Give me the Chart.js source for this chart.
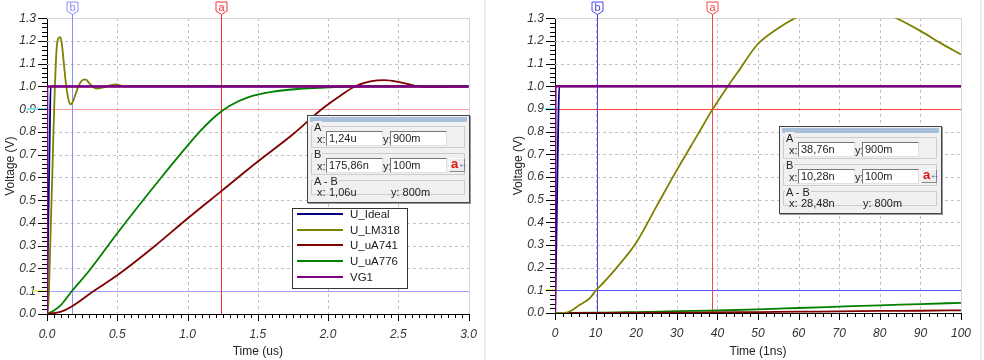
<!DOCTYPE html>
<html>
<head>
<meta charset="utf-8">
<script src="https://cdn.jsdelivr.net/npm/chart.js@4.4.1/dist/chart.umd.min.js"></script>
<style>
  body { margin:0; width:984px; height:360px; background:#fff; position:relative; overflow:hidden; font-family:"Liberation Sans", Arial, sans-serif; }
  .panel { position:absolute; top:0; }
  .sep { position:absolute; top:0; width:2px; height:360px; background:#ececec; }
  .legend { position:absolute; left:292px; top:208px; width:114px; height:79px; background:#fff; border:1px solid #333; font-size:11.5px; color:#222; }
  .legend .row { position:absolute; left:0; width:114px; height:16px; line-height:16px; white-space:nowrap; }
  .legend .sw { position:absolute; left:4px; top:7px; width:46px; height:2px; }
  .legend .lbl { position:absolute; left:57px; top:0; }
  .cbox { position:absolute; width:161px; height:86px; background:#f0f0f0; border:1px solid #444; box-shadow:1px 1px 0 #999; font-size:11px; color:#222; }
  .cbox div { position:absolute; white-space:nowrap; }
  .cbox .bar { left:2px; top:1px; width:157px; height:5px; background:#a9c0dc; }
  .cbox .grp { left:3px; width:152px; border:1px solid #cdcdcd; }
  .cbox .gl { left:5px; background:#f0f0f0; padding:0 1px; line-height:12px; }
  .cbox .fld { width:53px; height:13px; background:#fff; border:1px solid; border-color:#777 #e2e2e2 #e2e2e2 #777; line-height:13px; padding-left:2px; }
  .cbox .btn { left:141px; width:14px; height:12px; background:#ececec; border:1px solid; border-color:#fff #888 #888 #fff; line-height:12px; font-size:13px; }
</style>
</head>
<body>
<div class="panel" style="left:0"><canvas id="c1" width="490" height="360"></canvas></div>
<div class="panel" style="left:508px"><canvas id="c2" width="476" height="360"></canvas></div>
<div class="sep" style="left:484px"></div>
<div class="sep" style="left:980px"></div>
<div id="boxes"></div>
<script>
// left plot, time in us
const idealT_L = [0, 0.004, 0.012, 0.02, 0.026, 3.0];
const idealV_L = [0, 0.2, 0.5, 0.8, 1.0, 1.0];
const lm318T_L = [0, 0.008, 0.015, 0.022, 0.03, 0.038, 0.046, 0.055, 0.064, 0.072, 0.08, 0.094, 0.105, 0.12, 0.135, 0.15, 0.162, 0.171, 0.185, 0.2, 0.22, 0.24, 0.26, 0.276, 0.3, 0.33, 0.362, 0.41, 0.45, 0.49, 0.55, 0.7, 3.0];
const lm318V_L = [0, 0.03, 0.12, 0.28, 0.45, 0.62, 0.8, 0.98, 1.12, 1.19, 1.21, 1.217, 1.19, 1.1, 1.01, 0.95, 0.925, 0.921, 0.935, 0.96, 0.995, 1.02, 1.03, 1.03, 1.015, 0.997, 0.991, 0.997, 1.005, 1.009, 1.0, 1.0, 1.0];
const ua741T_L = [0, 0.1, 0.176, 0.33, 0.5, 0.75, 1.0, 1.24, 1.5, 1.75, 1.954, 2.1, 2.19, 2.3, 2.4, 2.5, 2.62, 2.75, 2.9, 3.0];
const ua741V_L = [0, 0.01, 0.033, 0.1, 0.17, 0.29, 0.42, 0.54, 0.67, 0.79, 0.9, 0.965, 1.0, 1.022, 1.028, 1.02, 1.003, 0.997, 0.999, 1.0];
const ua776T_L = [0, 0.05, 0.1, 0.176, 0.3, 0.5, 0.8, 1.0, 1.1, 1.2, 1.3, 1.43, 1.6, 1.8, 1.94, 2.1, 2.3, 3.0];
const ua776V_L = [0, 0.015, 0.04, 0.1, 0.19, 0.355, 0.59, 0.74, 0.81, 0.87, 0.915, 0.952, 0.976, 0.99, 0.994, 0.998, 1.0, 1.0];
const vg1T_L = [0, 0.0005, 3.0];
const vg1V_L = [0, 1.0, 1.0];

// right plot, time in ns
const idealT_R = [0, 0.2, 0.5, 0.8, 1.05, 100];
const idealV_R = [0, 0.17, 0.5, 0.83, 1.0, 1.0];
const lm318T_R = [0, 2, 4, 6, 8.5, 10.1, 12.5, 15, 20, 25, 30, 35, 38.8, 42, 44.9, 49.8, 54.5, 59.1, 65, 71, 78, 84.1, 90.2, 95, 100];
const lm318V_R = [0, 0, 0.01, 0.035, 0.064, 0.1, 0.145, 0.196, 0.31, 0.47, 0.63, 0.782, 0.898, 0.985, 1.059, 1.183, 1.25, 1.30, 1.345, 1.36, 1.345, 1.30, 1.242, 1.19, 1.14];
const ua741T_R = [0, 30, 40, 50, 60, 70, 80, 90, 100];
const ua741V_R = [0, 0.001, 0.003, 0.004, 0.006, 0.007, 0.009, 0.01, 0.012];
const ua776T_R = [0, 10, 15, 20, 30, 40, 50, 60, 70, 80, 90, 100];
const ua776V_R = [0, 0.001, 0.003, 0.004, 0.008, 0.011, 0.016, 0.022, 0.028, 0.034, 0.039, 0.045];
const vg1T_R = [0, 0.1, 100];
const vg1V_R = [0, 1.0, 1.0];

const seriesNames = ['U_Ideal', 'U_LM318', 'U_uA741', 'U_uA776', 'VG1'];
const seriesColors = ['#000080', '#808000', '#800000', '#008000', '#800080'];

// cursors [x, y] and readouts
const cursorA_L = [1.24, 0.9], cursorB_L = [0.17586, 0.1];
const cursorA_R = [38.76, 0.9], cursorB_R = [10.28, 0.1];
const readout_L = ['1,24u', '900m', '175,86n', '100m', '1,06u', '800m'];
const readout_R = ['38,76n', '900m', '10,28n', '100m', '28,48n', '800m'];

const tickFont = { family: '"Liberation Sans", Arial, sans-serif', size: 12, style: 'italic' };
const titleFont = { family: '"Liberation Sans", Arial, sans-serif', size: 12 };

// grid, minor ticks, cursors and tags, drawn from the chart's own scales
function scopePlugin(o) {
  return {
    id: 'scope',
    beforeDatasetsDraw(chart) {
      const { ctx, chartArea: a, scales: { x, y } } = chart;
      const L = Math.round(a.left), R = Math.round(a.right), T = Math.round(a.top), B = Math.round(a.bottom);
      ctx.save();
      // dashed grid
      ctx.fillStyle = '#c2c2c2';
      x.ticks.forEach(t => {
        if (t.value <= x.min || t.value >= x.max) return;
        const p = Math.round(x.getPixelForValue(t.value));
        for (let q = T; q < B; q += 6) ctx.fillRect(p, q, 1, Math.min(3, B - q));
      });
      y.ticks.forEach(t => {
        if (t.value <= y.min + 1e-9 || t.value >= y.max - 1e-9) return;
        const p = Math.round(y.getPixelForValue(t.value));
        for (let q = L; q < R; q += 6) ctx.fillRect(q, p, Math.min(3, R - q), 1);
      });
      // frame top/right
      ctx.fillStyle = '#d6d6d6';
      ctx.fillRect(L, T, R - L + 1, 1);
      ctx.fillRect(R, T, 1, B - T);
      // cursor lines
      const hl = (v, c) => { ctx.fillStyle = c; ctx.fillRect(L, Math.round(y.getPixelForValue(v)), R - L, 1); };
      const vl = (v, c) => { ctx.fillStyle = c; ctx.fillRect(Math.round(x.getPixelForValue(v)), 14, 1, B - 14); };
      hl(o.a[1], o.hA); hl(o.b[1], o.hB);
      vl(o.b[0], o.vB); vl(o.a[0], o.vA);
      // axis marks for cursor levels
      ctx.fillStyle = '#80e6ee';
      ctx.fillRect(L - o.markA, Math.round(y.getPixelForValue(o.a[1])) - 1, o.markA, 2);
      ctx.fillStyle = '#eeee70';
      ctx.fillRect(L - o.markB, Math.round(y.getPixelForValue(o.b[1])) - 1, o.markB, 2);
      ctx.restore();
    },
    afterDraw(chart) {
      const { ctx, chartArea: a, scales: { x, y } } = chart;
      const L = Math.round(a.left), B = Math.round(a.bottom);
      ctx.save();
      ctx.fillStyle = '#000';
      const nx = Math.round((x.max - x.min) / o.xMinor);
      for (let i = 0; i <= nx; i++) {
        const px = Math.round(x.getPixelForValue(x.min + i * o.xMinor));
        ctx.fillRect(px, B, 1, i % o.xPer === 0 ? 7 : 4);
      }
      const ny = Math.round((y.max - y.min) / o.yMinor);
      for (let i = 0; i <= ny; i++) {
        const py = Math.round(y.getPixelForValue(y.min + i * o.yMinor));
        const len = i % o.yPer === 0 ? 9 : 5;
        ctx.fillRect(L - len, py, len, 1);
      }
      const tag = (v, txt, c) => {
        const cx = Math.round(x.getPixelForValue(v)) + 0.5;
        ctx.fillStyle = '#fff'; ctx.strokeStyle = c; ctx.lineWidth = 1;
        ctx.beginPath();
        ctx.moveTo(cx - 5.5, 2); ctx.lineTo(cx + 5.5, 2); ctx.lineTo(cx + 5.5, 11);
        ctx.lineTo(cx, 14.5); ctx.lineTo(cx - 5.5, 11); ctx.closePath();
        ctx.fill(); ctx.stroke();
        ctx.fillStyle = c; ctx.font = '11px "Liberation Sans", Arial, sans-serif';
        ctx.textAlign = 'center'; ctx.textBaseline = 'middle';
        ctx.fillText(txt, cx, 7.5);
      };
      tag(o.b[0], 'b', o.vB); tag(o.a[0], 'a', o.vA);
      ctx.restore();
    }
  };
}

function makeChart(id, cfg) {
  const datasets = cfg.t.map((t, i) => ({
    label: seriesNames[i],
    data: t.map((tv, k) => ({ x: tv, y: cfg.v[i][k] })),
    borderColor: seriesColors[i],
    borderWidth: i === 4 ? 2.5 : 1.8,
    cubicInterpolationMode: 'monotone',
    order: i === 4 ? -1 : i,
    pointRadius: 0,
    fill: false
  }));
  return new Chart(document.getElementById(id), {
    type: 'line',
    data: { datasets },
    plugins: [scopePlugin(cfg.scope)],
    options: {
      responsive: false,
      animation: false,
      layout: { padding: { left: 0, top: 17, right: cfg.padRight, bottom: 0 } },
      plugins: { legend: { display: false }, tooltip: { enabled: false } },
      scales: {
        x: {
          type: 'linear', min: 0, max: cfg.xMax,
          ticks: { stepSize: cfg.xStep, autoSkip: false, maxRotation: 0, font: tickFont, color: '#333', padding: 13, callback: cfg.xFmt },
          grid: { display: false, drawTicks: false },
          border: { display: true, color: '#000', width: 1 },
          title: { display: true, text: cfg.xTitle, font: titleFont, color: '#222', padding: { top: 0, bottom: 1 } },
          afterFit: s => { s.height = cfg.xH; }
        },
        y: {
          type: 'linear', min: 0, max: 1.3,
          ticks: { stepSize: 0.1, autoSkip: false, font: tickFont, color: '#333', padding: 11, callback: v => v.toFixed(1) },
          grid: { display: false, drawTicks: false },
          border: { display: true, color: '#000', width: 1 },
          title: { display: true, text: 'Voltage (V)', font: titleFont, color: '#222', padding: { top: 3, bottom: 0 } },
          afterFit: s => { s.width = 47; }
        }
      }
    }
  });
}

makeChart('c1', {
  t: [idealT_L, lm318T_L, ua741T_L, ua776T_L, vg1T_L],
  v: [idealV_L, lm318V_L, ua741V_L, ua776V_L, vg1V_L],
  xMax: 3, xStep: 0.5, xFmt: v => v.toFixed(1), xTitle: 'Time (us)', padRight: 16, xH: 46,
  scope: { a: cursorA_L, b: cursorB_L, vA: '#ff3030', vB: '#8c8cff', hA: '#ff9c9c', hB: '#a0a0ff',
           markA: 20, markB: 14, xMinor: 0.05, xPer: 10, yMinor: 0.02, yPer: 5 }
});

makeChart('c2', {
  t: [idealT_R, lm318T_R, ua741T_R, ua776T_R, vg1T_R],
  v: [idealV_R, lm318V_R, ua741V_R, ua776V_R, vg1V_R],
  xMax: 100, xStep: 10, xFmt: v => String(v), xTitle: 'Time (1ns)', padRight: 17, xH: 47,
  scope: { a: cursorA_R, b: cursorB_R, vA: '#f04848', vB: '#4848e0', hA: '#ff4040', hB: '#5050ff',
           markA: 10, markB: 10, xMinor: 2, xPer: 5, yMinor: 0.02, yPer: 5 }
});

// legend
const leg = document.createElement('div');
leg.className = 'legend';
seriesNames.forEach((n, i) => {
  const r = document.createElement('div');
  r.className = 'row';
  r.style.top = (-3 + i * 15.7) + 'px';
  r.innerHTML = '<div class="sw" style="background:' + seriesColors[i] + '"></div><div class="lbl">' + n + '</div>';
  leg.appendChild(r);
});
document.body.appendChild(leg);

// cursor readout boxes
function cursorBox(left, top, r) {
  const b = document.createElement('div');
  b.className = 'cbox';
  b.style.left = left + 'px';
  b.style.top = top + 'px';
  const row = (y0, lab, xv, yv, btn) =>
    '<div class="grp" style="top:' + y0 + 'px;height:20px"></div>' +
    '<div class="gl" style="top:' + (y0 - 5) + 'px">' + lab + '</div>' +
    '<div style="left:9px;top:' + (y0 + 7) + 'px">x:</div>' +
    '<div class="fld" style="left:18px;top:' + (y0 + 5) + 'px">' + xv + '</div>' +
    '<div style="left:75px;top:' + (y0 + 7) + 'px">y:</div>' +
    '<div class="fld" style="left:82px;top:' + (y0 + 5) + 'px">' + yv + '</div>' +
    (btn ? '<div class="btn" style="top:' + (y0 + 5) + 'px"><span style="color:#e01010;font-weight:bold;position:absolute;left:1px;top:-1px">a</span><span style="color:#1030c0;font-size:10px;position:absolute;left:8px;top:-1px">&larr;</span></div>' : '');
  b.innerHTML = '<div class="bar"></div>' +
    row(10, 'A', r[0], r[1], false) +
    row(37, 'B', r[2], r[3], true) +
    '<div class="grp" style="top:64px;height:13px"></div>' +
    '<div class="gl" style="top:59px">A - B</div>' +
    '<div style="left:9px;top:70px;line-height:12px">x:</div>' +
    '<div style="left:21px;top:70px;line-height:12px">' + r[4] + '</div>' +
    '<div style="left:83px;top:70px;line-height:12px">y: ' + r[5] + '</div>';
  document.getElementById('boxes').appendChild(b);
}
cursorBox(307, 115, readout_L);
cursorBox(779, 126, readout_R);
</script>
</body>
</html>
